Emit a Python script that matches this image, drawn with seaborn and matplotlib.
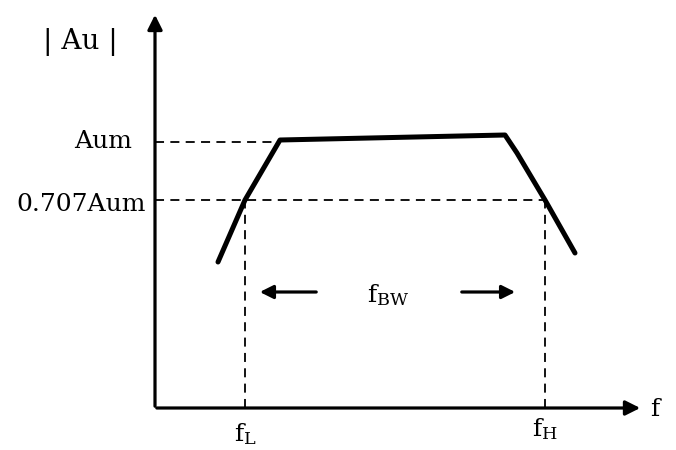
import matplotlib
matplotlib.use("Agg")
import matplotlib.pyplot as plt
import seaborn as sns
import pandas as pd

# response curve (arbitrary units, sketch)
freq = [0.63, 0.90, 1.25, 3.50, 3.62, 3.90, 4.20]
gain = [1.46, 2.08, 2.68, 2.73, 2.55, 2.08, 1.55]

aum = 2.66
a707 = 2.08
f_low = 0.90
f_high = 3.90

level_labels = ["Aum", "0.707Aum"]

sns.set_style("white")
plt.rcParams["font.family"] = ["DejaVu Serif"]
plt.rcParams["mathtext.fontset"] = "dejavuserif"
plt.rcParams["text.color"] = "black"

fig = plt.figure(figsize=(6.76, 4.5), dpi=100)
ax = fig.add_axes([0, 0, 1, 1])
ax.set_xlim(-1.55, 5.21)
ax.set_ylim(-0.42, 4.08)
ax.axis("off")

df = pd.DataFrame({"f": freq, "Au": gain})
sns.lineplot(data=df, x="f", y="Au", ax=ax, color="black", lw=3.6,
             sort=False, solid_joinstyle="round", solid_capstyle="round")

dash = dict(color="black", lw=1.3, ls=(0, (5, 3.5)))
ax.plot([0, 1.25], [aum, aum], **dash)
ax.plot([0, f_high], [a707, a707], **dash)
ax.plot([f_low, f_low], [0, a707], **dash)
ax.plot([f_high, f_high], [0, a707], **dash)

# axes with arrows
ax.annotate("", xy=(4.88, 0), xytext=(-0.01, 0),
            arrowprops=dict(arrowstyle="-|>", lw=2.3, color="black", mutation_scale=22))
ax.annotate("", xy=(0, 3.96), xytext=(0, -0.01),
            arrowprops=dict(arrowstyle="-|>", lw=2.3, color="black", mutation_scale=22))

# bandwidth arrows
ax.annotate("", xy=(1.02, 1.16), xytext=(1.64, 1.16),
            arrowprops=dict(arrowstyle="-|>", lw=2.3, color="black", mutation_scale=20))
ax.annotate("", xy=(3.63, 1.16), xytext=(3.04, 1.16),
            arrowprops=dict(arrowstyle="-|>", lw=2.3, color="black", mutation_scale=20))

fs = 18
ax.text(2.33, 1.13, r"$\mathregular{f_{BW}}$", fontsize=fs, ha="center", va="center")
ax.text(-0.75, 3.66, "| Au |", fontsize=fs + 2, ha="center", va="center")
ax.text(-0.23, aum, level_labels[0], fontsize=fs, ha="right", va="center")
ax.text(-0.09, a707 - 0.05, level_labels[1], fontsize=fs, ha="right", va="center")
ax.text(f_low, -0.26, r"$\mathregular{f_L}$", fontsize=fs, ha="center", va="center")
ax.text(f_high, -0.21, r"$\mathregular{f_H}$", fontsize=fs, ha="center", va="center")
ax.text(5.0, -0.02, "f", fontsize=fs, ha="center", va="center")

fig.savefig("out.png", dpi=100, facecolor="white")
